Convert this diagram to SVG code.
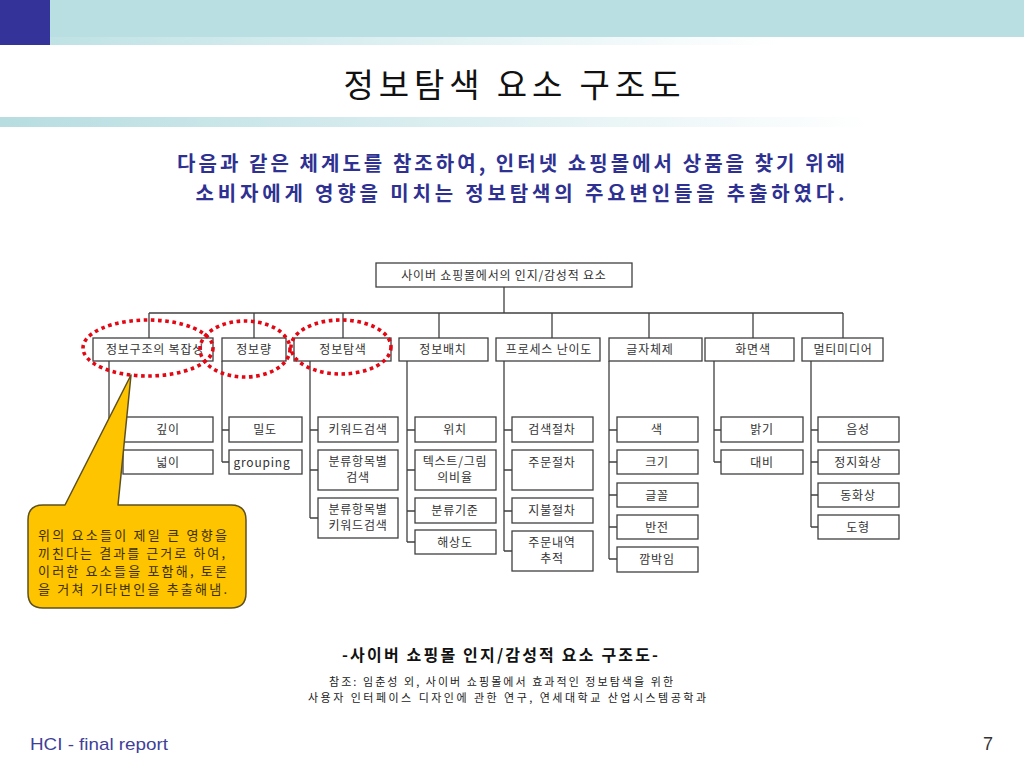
<svg xmlns="http://www.w3.org/2000/svg" width="1024" height="768" viewBox="0 0 1024 768">
<defs>
<linearGradient id="g1" x1="0" y1="0" x2="1" y2="0">
<stop offset="0" stop-color="#bfe2e5"/>
<stop offset="0.75" stop-color="#ffffff"/>
</linearGradient>
<linearGradient id="g2" x1="0" y1="0" x2="1" y2="0">
<stop offset="0" stop-color="#b7dde1"/>
<stop offset="0.85" stop-color="#ffffff"/>
</linearGradient>
<style>
.t{font-family:"Noto Sans CJK KR","Noto Sans",sans-serif;}
.box{fill:#ffffff;stroke:#404040;stroke-width:1.3;}
.ln{fill:none;stroke:#404040;stroke-width:1.3;}
.lbl{font-family:"Noto Sans CJK KR","Noto Sans",sans-serif;font-size:12px;fill:#333333;text-anchor:middle;letter-spacing:0.8px;}
.dot{fill:none;stroke:#e30613;stroke-width:3.6;stroke-dasharray:3.6 3.6;}
</style>
</defs>
<rect width="1024" height="768" fill="#ffffff"/>
<!-- header -->
<rect x="0" y="0" width="1024" height="37" fill="#b9dfe3"/>
<rect x="50" y="37" width="974" height="8" fill="url(#g1)"/>
<rect x="0" y="0" width="50" height="45" fill="#333399"/>
<rect x="0" y="117" width="1024" height="10" fill="url(#g2)"/>
<text class="t" x="512" y="97" font-size="33" text-anchor="middle" fill="#111111" textLength="337">정보탐색 요소 구조도</text>
<text class="t" x="511" y="171" font-size="20" text-anchor="middle" fill="#2e3192" font-weight="bold" textLength="668">다음과 같은 체계도를 참조하여, 인터넷 쇼핑몰에서 상품을 찾기 위해</text>
<text class="t" x="520" y="201" font-size="20" text-anchor="middle" fill="#2e3192" font-weight="bold" textLength="649">소비자에게 영향을 미치는 정보탐색의 주요변인들을 추출하였다.</text>

<!-- connectors -->
<g id="connectors">
<path class="ln" d="M504 287V313M149 313H843M149 313V338M254 313V338M343 313V338M439 313V338M552 313V338M649 313V338M753 313V338M843 313V338"/>
<path class="ln" d="M109 361V462M109 430H123M109 462H123"/>
<path class="ln" d="M222 361V462M222 430H229M222 462H229"/>
<path class="ln" d="M310 361V518M310 430H318M310 470H318M310 518H318"/>
<path class="ln" d="M407 361V542M407 430H415M407 470H415M407 511H415M407 542H415"/>
<path class="ln" d="M504 361V551M504 430H512M504 470H512M504 511H512M504 551H512"/>
<path class="ln" d="M609 361V559M609 430H617M609 462H617M609 495H617M609 527H617M609 559H617"/>
<path class="ln" d="M714 361V462M714 430H721M714 462H721"/>
<path class="ln" d="M811 361V527M811 430H818M811 462H818M811 495H818M811 527H818"/>
</g>

<!-- root -->
<g id="root"><rect class="box" x="376" y="263" width="256" height="24"/><text class="lbl" x="504" y="280">사이버 쇼핑몰에서의 인지/감성적 요소</text></g>

<!-- level 1 -->
<g id="n-structure"><rect class="box" x="93" y="338" width="120" height="23"/><text class="lbl" x="155" y="354">정보구조의 복잡성</text></g>
<g id="n-amount"><rect class="box" x="222" y="338" width="64" height="23"/><text class="lbl" x="254" y="354">정보량</text></g>
<g id="n-search"><rect class="box" x="294" y="338" width="97" height="23"/><text class="lbl" x="343" y="354">정보탐색</text></g>
<g id="n-layout"><rect class="box" x="399" y="338" width="89" height="23"/><text class="lbl" x="443" y="354">정보배치</text></g>
<g id="n-process"><rect class="box" x="496" y="338" width="104" height="23"/><text class="lbl" x="549" y="354">프로세스 난이도</text></g>
<g id="n-type"><rect class="box" x="609" y="338" width="93" height="23"/><text class="lbl" x="650" y="354">글자체제</text></g>
<g id="n-color"><rect class="box" x="705" y="338" width="89" height="23"/><text class="lbl" x="753" y="354">화면색</text></g>
<g id="n-media"><rect class="box" x="802" y="338" width="81" height="23"/><text class="lbl" x="843" y="354">멀티미디어</text></g>

<!-- leaves -->
<g id="l-depth"><rect class="box" x="123" y="417" width="90" height="25"/><text class="lbl" x="168" y="434">깊이</text></g>
<g id="l-width"><rect class="box" x="123" y="450" width="90" height="24"/><text class="lbl" x="168" y="467">넓이</text></g>

<g id="l-density"><rect class="box" x="229" y="417" width="73" height="25"/><text class="lbl" x="265" y="434">밀도</text></g>
<g id="l-grouping"><rect class="box" x="229" y="450" width="73" height="24"/><text class="lbl" x="262" y="467" letter-spacing="0.3">grouping</text></g>

<g id="l-keyword"><rect class="box" x="318" y="417" width="80" height="25"/><text class="lbl" x="358" y="434">키워드검색</text></g>
<g id="l-cat"><rect class="box" x="318" y="450" width="80" height="40"/><text class="lbl" x="358" y="466">분류항목별</text><text class="lbl" x="358" y="482">검색</text></g>
<g id="l-catkey"><rect class="box" x="318" y="498" width="80" height="40"/><text class="lbl" x="358" y="514">분류항목별</text><text class="lbl" x="358" y="530">키워드검색</text></g>

<g id="l-pos"><rect class="box" x="415" y="417" width="81" height="25"/><text class="lbl" x="455" y="434">위치</text></g>
<g id="l-ratio"><rect class="box" x="415" y="450" width="81" height="40"/><text class="lbl" x="455" y="466">텍스트/그림</text><text class="lbl" x="455" y="482">의비율</text></g>
<g id="l-crit"><rect class="box" x="415" y="498" width="81" height="25"/><text class="lbl" x="455" y="515">분류기준</text></g>
<g id="l-res"><rect class="box" x="415" y="530" width="81" height="24"/><text class="lbl" x="455" y="547">해상도</text></g>

<g id="l-sproc"><rect class="box" x="512" y="417" width="81" height="25"/><text class="lbl" x="552" y="434">검색절차</text></g>
<g id="l-oproc"><rect class="box" x="512" y="450" width="81" height="40"/><text class="lbl" x="552" y="467">주문절차</text></g>
<g id="l-pproc"><rect class="box" x="512" y="498" width="81" height="25"/><text class="lbl" x="552" y="515">지불절차</text></g>
<g id="l-track"><rect class="box" x="512" y="531" width="81" height="40"/><text class="lbl" x="552" y="547">주문내역</text><text class="lbl" x="552" y="563">추적</text></g>

<g id="l-col"><rect class="box" x="617" y="417" width="81" height="25"/><text class="lbl" x="657" y="434">색</text></g>
<g id="l-size"><rect class="box" x="617" y="450" width="81" height="24"/><text class="lbl" x="657" y="467">크기</text></g>
<g id="l-font"><rect class="box" x="617" y="483" width="81" height="24"/><text class="lbl" x="657" y="500">글꼴</text></g>
<g id="l-inv"><rect class="box" x="617" y="515" width="81" height="24"/><text class="lbl" x="657" y="532">반전</text></g>
<g id="l-blink"><rect class="box" x="617" y="547" width="81" height="25"/><text class="lbl" x="657" y="564">깜박임</text></g>

<g id="l-bright"><rect class="box" x="721" y="417" width="82" height="25"/><text class="lbl" x="762" y="434">밝기</text></g>
<g id="l-contrast"><rect class="box" x="721" y="450" width="82" height="24"/><text class="lbl" x="762" y="467">대비</text></g>

<g id="l-voice"><rect class="box" x="818" y="417" width="81" height="25"/><text class="lbl" x="858" y="434">음성</text></g>
<g id="l-still"><rect class="box" x="818" y="450" width="81" height="24"/><text class="lbl" x="858" y="467">정지화상</text></g>
<g id="l-video"><rect class="box" x="818" y="483" width="81" height="24"/><text class="lbl" x="858" y="500">동화상</text></g>
<g id="l-shape"><rect class="box" x="818" y="515" width="81" height="24"/><text class="lbl" x="858" y="532">도형</text></g>

<!-- red dotted ellipses -->
<g id="highlights">
<ellipse class="dot" cx="148" cy="348" rx="65" ry="28"/>
<ellipse class="dot" cx="245" cy="349" rx="45" ry="28"/>
<ellipse class="dot" cx="341" cy="347" rx="50" ry="27"/>
</g>

<!-- callout -->
<g id="callout">
<path d="M131 375L118 505H231Q246 505 246 520V593Q246 608 231 608H43Q28 608 28 593V520Q28 505 43 505H65Z" fill="#ffc400" stroke="#5e5020" stroke-width="1.5" stroke-linejoin="round"/>
<text class="t" font-size="13" fill="#3a3000" x="38" y="540" textLength="189">위의 요소들이 제일 큰 영향을</text>
<text class="t" font-size="13" fill="#3a3000" x="38" y="558" textLength="187">끼친다는 결과를 근거로 하여,</text>
<text class="t" font-size="13" fill="#3a3000" x="38" y="576" textLength="189">이러한 요소들을 포함해, 토론</text>
<text class="t" font-size="13" fill="#3a3000" x="38" y="594" textLength="189">을 거쳐 기타변인을 추출해냄.</text>
</g>

<!-- captions -->
<text class="t" x="500" y="661" font-size="16" font-weight="bold" text-anchor="middle" fill="#111111" textLength="316">-사이버 쇼핑몰 인지/감성적 요소 구조도-</text>
<text class="t" x="501" y="686" font-size="11" text-anchor="middle" fill="#222222" textLength="344">참조: 임춘성 외, 사이버 쇼핑몰에서 효과적인 정보탐색을 위한</text>
<text class="t" x="507" y="702" font-size="11" text-anchor="middle" fill="#222222" textLength="398">사용자 인터페이스 디자인에 관한 연구, 연세대학교 산업시스템공학과</text>

<!-- footer -->
<text x="30" y="750" font-family="Liberation Sans, Arial, sans-serif" font-size="17" fill="#3f3f99" textLength="138" lengthAdjust="spacingAndGlyphs">HCI - final report</text>
<text x="993" y="750" font-family="Liberation Sans, Arial, sans-serif" font-size="18" fill="#333333" text-anchor="end">7</text>
</svg>
